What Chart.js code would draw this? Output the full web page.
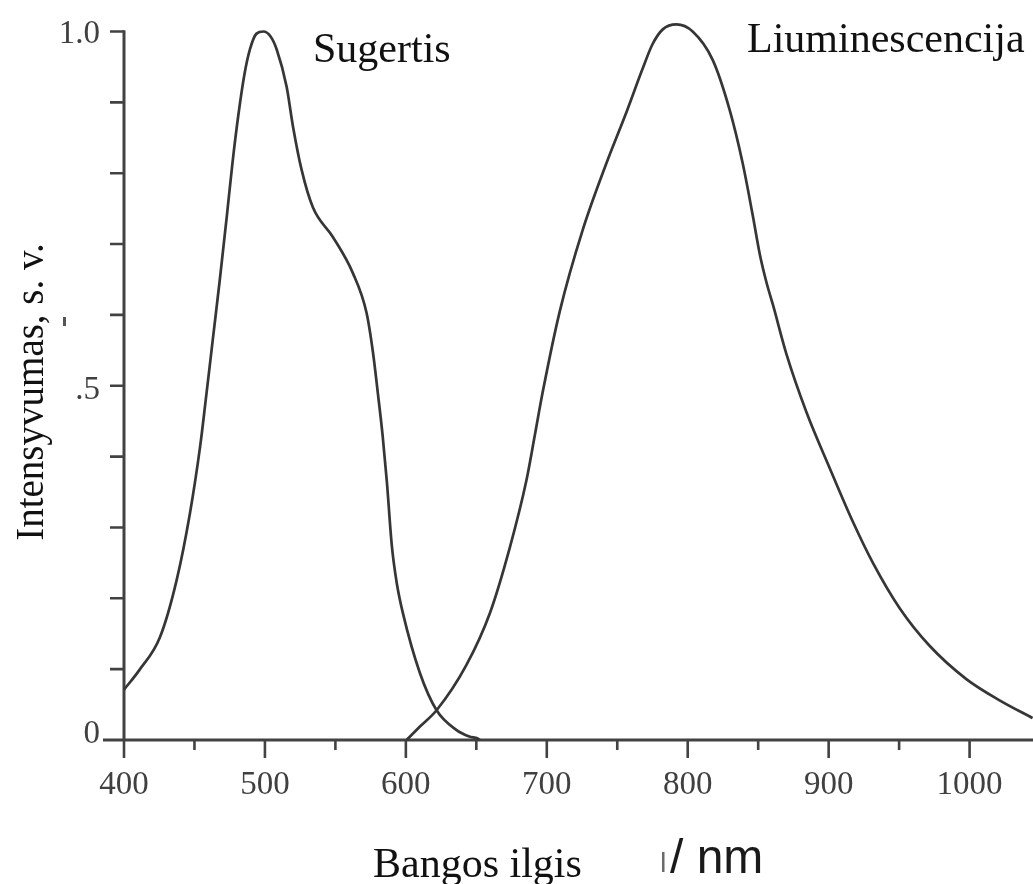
<!DOCTYPE html>
<html>
<head>
<meta charset="utf-8">
<title>Sugertis ir liuminescencija</title>
<script src="https://cdn.jsdelivr.net/npm/chart.js@4/dist/chart.umd.min.js"></script>
<style>
  html, body { margin: 0; padding: 0; background: #ffffff; }
  #wrap { width: 1033px; height: 884px; position: relative; }
  canvas { display: block; }
</style>
</head>
<body>
<div id="wrap"><canvas id="spectra" width="1033" height="884"></canvas></div>
<script>
// Absorption spectrum (wavelength in nm, relative intensity)
const absorptionNm = [400, 411, 425.5, 437.4, 446.8, 454, 458, 463, 468, 473, 477, 481, 485.5, 489.4, 494, 499, 504, 508.3, 515.4, 519.9, 526, 534, 548.2, 562.4, 572.1, 576.6, 580.1, 583.5, 586.5, 590, 593.5, 597.9, 609.9, 621.8, 636, 645, 651, 652.5];
const absorptionVal = [0.071, 0.099, 0.145, 0.226, 0.320, 0.414, 0.480, 0.565, 0.650, 0.740, 0.815, 0.880, 0.940, 0.975, 0.997, 1.000, 0.993, 0.975, 0.922, 0.866, 0.805, 0.752, 0.710, 0.659, 0.603, 0.548, 0.490, 0.430, 0.365, 0.275, 0.222, 0.179, 0.095, 0.042, 0.014, 0.005, 0.002, 0.000];

// Luminescence spectrum
const luminescenceNm = [600.5, 610.0, 621.8, 643.0, 659.6, 673.8, 685.6, 691.5, 697.0, 709.2, 725.5, 742.3, 756.5, 768.1, 775.0, 782.3, 792.0, 803.5, 817.7, 829.8, 839.0, 846.0, 851.1, 856.0, 860.5, 870.0, 884.2, 900.7, 917.2, 931.4, 950.4, 971.6, 997.7, 1021.3, 1044.7];
const luminescenceVal = [0.000, 0.019, 0.042, 0.106, 0.179, 0.272, 0.367, 0.430, 0.490, 0.605, 0.720, 0.814, 0.886, 0.948, 0.982, 1.003, 1.010, 1.000, 0.960, 0.889, 0.814, 0.742, 0.686, 0.645, 0.614, 0.545, 0.463, 0.384, 0.308, 0.250, 0.186, 0.133, 0.086, 0.056, 0.031];

// Axis ticks and labels
const xMajorTicks = [400, 500, 600, 700, 800, 900, 1000];
const xMajorLabels = ['400', '500', '600', '700', '800', '900', '1000'];
const xMinorTicks = [450, 550, 650, 750, 850, 950];
const yTicks = [0, 0.1, 0.2, 0.3, 0.4, 0.5, 0.6, 0.7, 0.8, 0.9, 1.0];
const yLabelValues = [0, 0.5, 1.0];
const yLabelTexts = ['0', '.5', '1.0'];

// Text
const absorptionTitle = 'Sugertis';
const luminescenceTitle = 'Liuminescencija';
const yAxisTitle = 'Intensyvumas, s. v.';
const xAxisTitle = 'Bangos ilgis';
const xAxisUnit = '/ nm';

const toPoints = (xs, ys) => xs.map((x, i) => ({ x: x, y: ys[i] }));

const INK = '#363636';
const AXIS = '#424242';
const TICK_TEXT = '#404040';

// Draws the axis lines, tick marks and all text using the chart's scales
const spectrumAxes = {
  id: 'spectrumAxes',
  beforeDatasetsDraw(chart) {
    const ctx = chart.ctx;
    const xs = chart.scales.x;
    const ys = chart.scales.y;
    const y0 = ys.getPixelForValue(0);
    const y1 = ys.getPixelForValue(1);
    const xLeft = xs.getPixelForValue(400);

    ctx.save();
    ctx.strokeStyle = AXIS;
    ctx.lineCap = 'butt';

    // axis lines
    ctx.lineWidth = 3;
    ctx.beginPath();
    ctx.moveTo(xLeft - 21, y0);
    ctx.lineTo(chart.width, y0);
    ctx.moveTo(xLeft, y0 + 1.5);
    ctx.lineTo(xLeft, y1 - 1.2);
    ctx.stroke();

    // y tick marks (pointing left)
    ctx.lineWidth = 2.6;
    ctx.beginPath();
    yTicks.forEach(v => {
      if (v === 0) return;
      const py = ys.getPixelForValue(v);
      ctx.moveTo(xLeft - 14, py);
      ctx.lineTo(xLeft, py);
    });
    ctx.stroke();

    // x tick marks (pointing down)
    ctx.beginPath();
    xMajorTicks.forEach(v => {
      const px = xs.getPixelForValue(v);
      ctx.moveTo(px, y0);
      ctx.lineTo(px, y0 + 18);
    });
    xMinorTicks.forEach(v => {
      const px = xs.getPixelForValue(v);
      ctx.moveTo(px, y0);
      ctx.lineTo(px, y0 + 10);
    });
    ctx.stroke();

    // tick labels
    ctx.fillStyle = TICK_TEXT;
    ctx.font = '33px "Liberation Serif", "DejaVu Serif", serif';
    ctx.textAlign = 'center';
    ctx.textBaseline = 'middle';
    xMajorTicks.forEach((v, i) => {
      ctx.fillText(xMajorLabels[i], xs.getPixelForValue(v), y0 + 45);
    });
    ctx.textAlign = 'right';
    yLabelValues.forEach((v, i) => {
      const py = ys.getPixelForValue(v);
      const shift = v === 0 ? -6 : (v === 1 ? 3 : 5);
      ctx.fillText(yLabelTexts[i], xLeft - 24, py + shift);
    });

    // series titles
    ctx.fillStyle = '#111111';
    ctx.textAlign = 'left';
    ctx.textBaseline = 'alphabetic';
    ctx.font = '42px "Liberation Serif", "Times New Roman", serif';
    ctx.fillText(absorptionTitle, 313, 62);
    ctx.fillText(luminescenceTitle, 747, 52);

    // x axis title
    ctx.fillText(xAxisTitle, 373, 877);
    ctx.font = '48px "Liberation Sans", Arial, sans-serif';
    ctx.fillStyle = '#1a1a1a';
    ctx.fillText(xAxisUnit, 670, 873);
    ctx.fillStyle = '#6a6a6a';
    ctx.fillRect(662, 852, 2.5, 20);

    // y axis title (rotated)
    ctx.save();
    ctx.fillStyle = '#111111';
    ctx.translate(43, 392);
    ctx.rotate(-Math.PI / 2);
    ctx.textAlign = 'center';
    ctx.font = '39px "Liberation Serif", "Times New Roman", serif';
    ctx.fillText(yAxisTitle, 0, 0);
    ctx.restore();
    ctx.fillStyle = '#555555';
    ctx.fillRect(63, 317, 3, 9);

    ctx.restore();
  }
};

new Chart(document.getElementById('spectra'), {
  type: 'line',
  data: {
    datasets: [
      {
        label: absorptionTitle,
        data: toPoints(absorptionNm, absorptionVal),
        borderColor: INK,
        borderWidth: 2.7,
        pointRadius: 0,
        fill: false,
        cubicInterpolationMode: 'monotone',
        clip: false
      },
      {
        label: luminescenceTitle,
        data: toPoints(luminescenceNm, luminescenceVal),
        borderColor: INK,
        borderWidth: 2.7,
        pointRadius: 0,
        fill: false,
        cubicInterpolationMode: 'monotone',
        clip: false
      }
    ]
  },
  options: {
    responsive: false,
    animation: false,
    devicePixelRatio: 1,
    layout: { padding: { left: 124, right: 0, top: 31.5, bottom: 144 } },
    plugins: {
      legend: { display: false },
      tooltip: { enabled: false },
      title: { display: false }
    },
    scales: {
      x: { type: 'linear', min: 400, max: 1045, display: false },
      y: { type: 'linear', min: 0, max: 1, display: false }
    }
  },
  plugins: [spectrumAxes]
});
</script>
</body>
</html>
